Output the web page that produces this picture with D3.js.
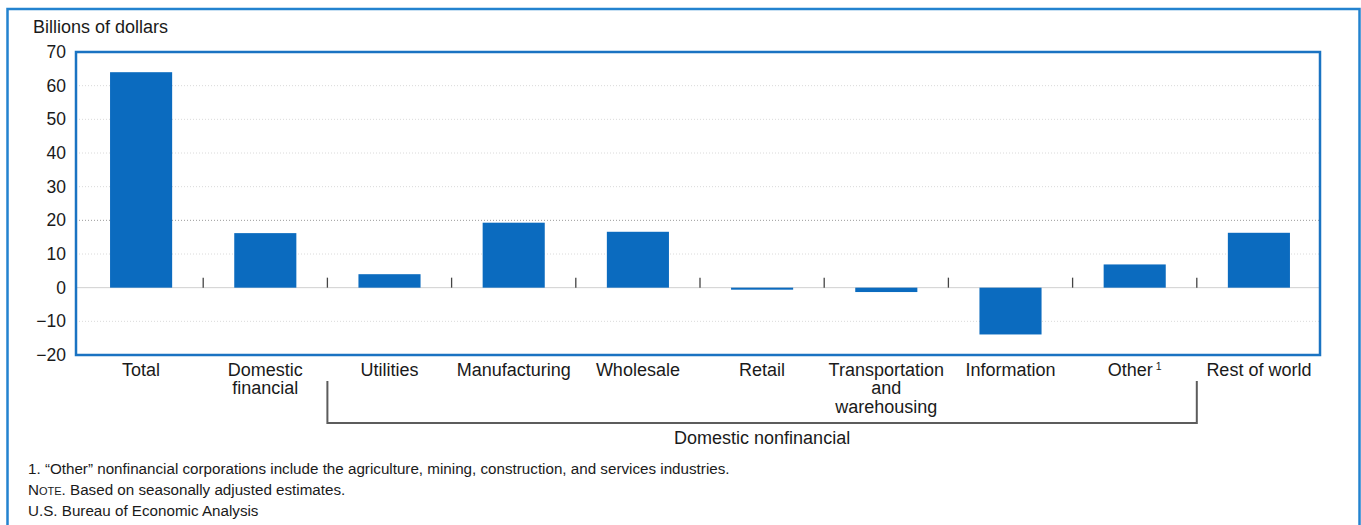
<!DOCTYPE html>
<html>
<head>
<meta charset="utf-8">
<script src="https://cdn.jsdelivr.net/npm/d3@7"></script>
<style>
  html, body { margin: 0; padding: 0; background: #fff; }
  svg { display: block; }
  text { font-family: "Liberation Sans", Arial, Helvetica, sans-serif; fill: #1a1a1a; }
</style>
</head>
<body>
<svg id="chart" width="1361" height="525"></svg>
<script>
// ---- data ----
const categories = ["Total", "Domestic financial", "Utilities", "Manufacturing", "Wholesale",
  "Retail", "Transportation and warehousing", "Information", "Other", "Rest of world"];
const categoryLines = [["Total"], ["Domestic", "financial"], ["Utilities"], ["Manufacturing"], ["Wholesale"],
  ["Retail"], ["Transportation", "and", "warehousing"], ["Information"], ["Other"], ["Rest of world"]];
const values = [64.0, 16.2, 4.0, 19.3, 16.6, -0.6, -1.3, -13.9, 6.9, 16.3];
const yTicks = [70, 60, 50, 40, 30, 20, 10, 0, -10, -20];
const gridTicks = [60, 50, 40, 30, 20, 10, -10];
const yLabel = "Billions of dollars";
const groupLabel = "Domestic nonfinancial";
const groupFirst = "Utilities", groupLast = "Other";

const svg = d3.select("#chart");
const blue = "#0b6bbf";
const frameBlue = "#2383cf";

// outer frame
svg.append("rect").attr("x", 7.5).attr("y", 9).attr("width", 1352).attr("height", 540)
  .attr("fill", "none").attr("stroke", frameBlue).attr("stroke-width", 2.5);

const plot = { left: 76, right: 1320, top: 52, bottom: 355 };

const x = d3.scaleBand().domain(categories).range([79, 1321]).paddingInner(0.5).paddingOuter(0.25);
const y = d3.scaleLinear().domain([-20, 70]).range([plot.bottom, plot.top]);

// gridlines
svg.append("g").selectAll("line").data(gridTicks).join("line")
  .attr("x1", plot.left).attr("x2", plot.right)
  .attr("y1", d => y(d)).attr("y2", d => y(d))
  .attr("stroke", d => d === 20 ? "#9a9a9a" : "#dadada").attr("stroke-width", 1).attr("stroke-dasharray", "1,2");

// zero line
svg.append("line").attr("x1", plot.left).attr("x2", plot.right)
  .attr("y1", y(0)).attr("y2", y(0)).attr("stroke", "#d0d0d0").attr("stroke-width", 1);

// bars
svg.append("g").selectAll("rect").data(categories).join("rect")
  .attr("x", d => x(d))
  .attr("width", x.bandwidth())
  .attr("y", (d, i) => y(Math.max(0, values[i])))
  .attr("height", (d, i) => Math.max(1.5, Math.abs(y(values[i]) - y(0))))
  .attr("fill", blue);

// small separators between categories
const step = x.step();
const seps = categories.slice(1).map(c => x(c) - (step - x.bandwidth()) / 2);
svg.append("g").selectAll("line").data(seps).join("line")
  .attr("x1", d => d).attr("x2", d => d)
  .attr("y1", y(0) - 10).attr("y2", y(0))
  .attr("stroke", "#444").attr("stroke-width", 1.3);

// plot frame
svg.append("rect").attr("x", plot.left).attr("y", plot.top)
  .attr("width", plot.right - plot.left).attr("height", plot.bottom - plot.top)
  .attr("fill", "none").attr("stroke", "#1a73c2").attr("stroke-width", 2.5);

// y axis labels
const yAxis = d3.axisLeft(y).tickValues(yTicks).tickSize(0).tickPadding(10)
  .tickFormat(d => d < 0 ? "\u2212" + Math.abs(d) : d);
const ya = svg.append("g").attr("transform", `translate(${plot.left},0)`).call(yAxis);
ya.select(".domain").remove();
ya.selectAll("text").attr("font-size", 17.5).attr("fill", "#1a1a1a")
  .style("font-family", "'Liberation Sans', Arial, sans-serif");

svg.append("text").attr("x", 33).attr("y", 33).attr("font-size", 18).text(yLabel);

// category labels
const lab = svg.append("g");
categories.forEach((c, i) => {
  const cx = x(c) + x.bandwidth() / 2;
  const t = lab.append("text").attr("text-anchor", "middle").attr("font-size", 18);
  categoryLines[i].forEach((ln, j) => {
    t.append("tspan").attr("x", cx).attr("y", 376 + j * 18.3).text(ln);
  });
  if (c === "Other") {
    t.select("tspan").append("tspan").attr("font-size", 10.5).attr("dy", -6).attr("dx", 3).text("1");
  }
});

// bracket for domestic nonfinancial
const bx1 = x(groupFirst) - (step - x.bandwidth()) / 2;
const bx2 = x(groupLast) + x.bandwidth() + (step - x.bandwidth()) / 2;
svg.append("path")
  .attr("d", `M${bx1},381 V423 H${bx2} V381`)
  .attr("fill", "none").attr("stroke", "#5c5c5c").attr("stroke-width", 2);
svg.append("text").attr("x", (bx1 + bx2) / 2).attr("y", 444).attr("text-anchor", "middle")
  .attr("font-size", 18).text(groupLabel);

// footnotes
const fn = svg.append("g").attr("font-size", 15.2);
fn.append("text").attr("x", 28).attr("y", 474)
  .text("1. \u201cOther\u201d nonfinancial corporations include the agriculture, mining, construction, and services industries.");
const note = fn.append("text").attr("x", 28).attr("y", 495);
note.append("tspan").text("N");
note.append("tspan").attr("font-size", 11).text("OTE");
note.append("tspan").text(". Based on seasonally adjusted estimates.");
fn.append("text").attr("x", 28).attr("y", 516).text("U.S. Bureau of Economic Analysis");
</script>
</body>
</html>
